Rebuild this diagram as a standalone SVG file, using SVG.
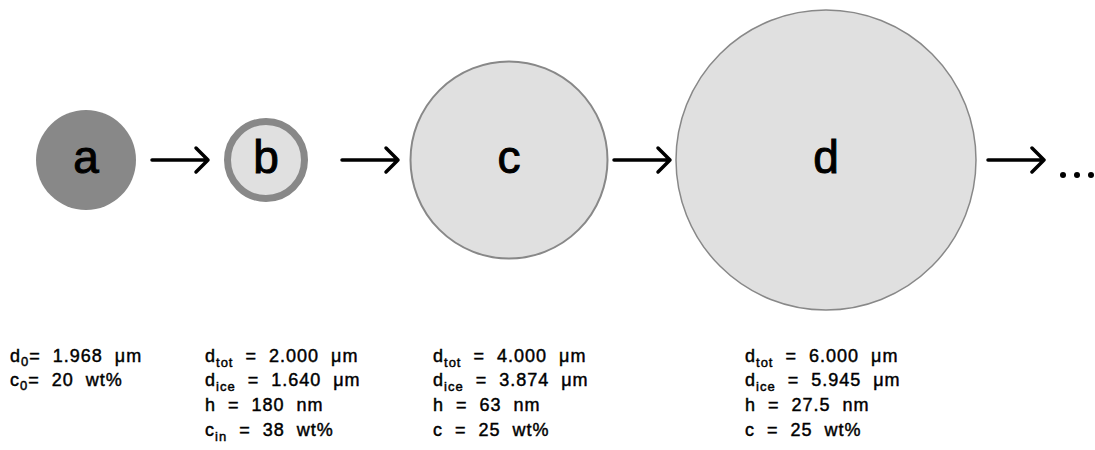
<svg xmlns="http://www.w3.org/2000/svg" width="1095" height="450" viewBox="0 0 1095 450">
<style>
.lbl{font-family:"Liberation Sans",Arial,sans-serif;font-size:18px;fill:#000;stroke:#000;stroke-width:0.45;word-spacing:6px;letter-spacing:1px}
.sub{font-size:13px}
.node{font-family:"Liberation Sans",Arial,sans-serif;font-size:46px;fill:#000;stroke:#000;stroke-width:1;text-anchor:middle}
.conn{stroke:#000;stroke-width:3.5;fill:none;stroke-linecap:round;stroke-linejoin:round}
</style>
<rect width="1095" height="450" fill="#fff"/>
<g id="node-a">
<circle cx="86" cy="160" r="50" fill="#888"/>
<text class="node" x="86" y="173">a</text>
</g>
<g id="node-b">
<circle cx="266" cy="160" r="38.5" fill="#e0e0e0" stroke="#888" stroke-width="7"/>
<text class="node" x="266" y="173">b</text>
</g>
<g id="node-c">
<circle cx="509" cy="160" r="98.5" fill="#e0e0e0" stroke="#888" stroke-width="2"/>
<text class="node" x="509" y="173">c</text>
</g>
<g id="node-d">
<circle cx="826" cy="160" r="150" fill="#e0e0e0" stroke="#888" stroke-width="1.5"/>
<text class="node" x="826" y="173">d</text>
</g>
<g id="connectors">
<path class="conn" d="M152 160H208M196 148L208 160L196 172"/>
<path class="conn" d="M342 160H398M386 148L398 160L386 172"/>
<path class="conn" d="M614 160H670M658 148L670 160L658 172"/>
<path class="conn" d="M988 160H1044M1032 148L1044 160L1032 172"/>
<circle cx="1063" cy="175" r="3" fill="#000"/>
<circle cx="1077" cy="175" r="3" fill="#000"/>
<circle cx="1091" cy="175" r="3" fill="#000"/>
</g>
<g id="label-a">
<text class="lbl" x="10" y="362">d<tspan class="sub" dy="4">0</tspan><tspan dy="-4">= 1.968 μm</tspan></text>
<text class="lbl" x="10" y="386">c<tspan class="sub" dy="4">0</tspan><tspan dy="-4">= 20 wt%</tspan></text>
</g>
<g id="label-b">
<text class="lbl" x="205" y="362">d<tspan class="sub" dy="5">tot</tspan><tspan dy="-5"> = 2.000 μm</tspan></text>
<text class="lbl" x="205" y="386">d<tspan class="sub" dy="5">ice</tspan><tspan dy="-5"> = 1.640 μm</tspan></text>
<text class="lbl" x="205" y="411">h = 180 nm</text>
<text class="lbl" x="205" y="436">c<tspan class="sub" dy="5">in</tspan><tspan dy="-5"> = 38 wt%</tspan></text>
</g>
<g id="label-c">
<text class="lbl" x="433" y="362">d<tspan class="sub" dy="5">tot</tspan><tspan dy="-5"> = 4.000 μm</tspan></text>
<text class="lbl" x="433" y="386">d<tspan class="sub" dy="5">ice</tspan><tspan dy="-5"> = 3.874 μm</tspan></text>
<text class="lbl" x="433" y="411">h = 63 nm</text>
<text class="lbl" x="433" y="436">c = 25 wt%</text>
</g>
<g id="label-d">
<text class="lbl" x="745" y="362">d<tspan class="sub" dy="5">tot</tspan><tspan dy="-5"> = 6.000 μm</tspan></text>
<text class="lbl" x="745" y="386">d<tspan class="sub" dy="5">ice</tspan><tspan dy="-5"> = 5.945 μm</tspan></text>
<text class="lbl" x="745" y="411">h = 27.5 nm</text>
<text class="lbl" x="745" y="436">c = 25 wt%</text>
</g>
</svg>
